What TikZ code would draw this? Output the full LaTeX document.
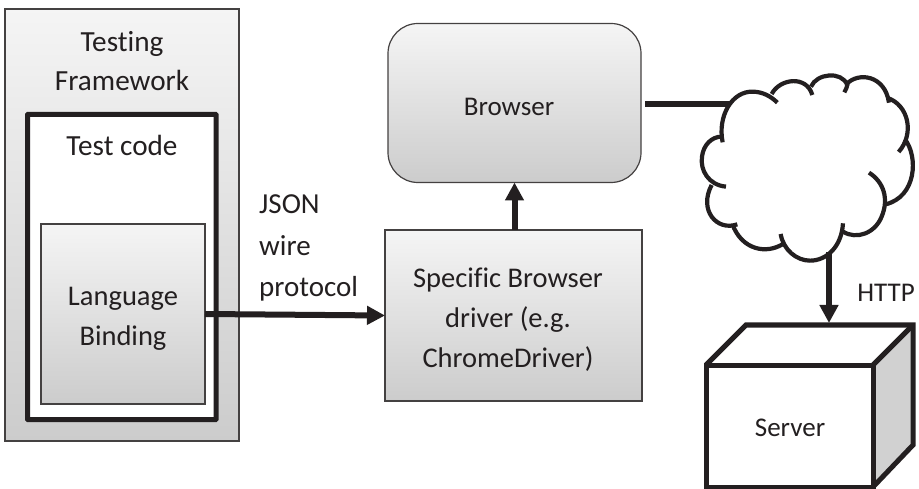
\documentclass[tikz,border=0pt]{standalone}
\usepackage{fontspec}
\setmainfont[Ligatures=NoCommon]{Carlito}
\usetikzlibrary{arrows.meta}
\definecolor{ink}{HTML}{231F20}
\tikzset{
  x=1pt,y=-1pt,
  boxbase/.style={draw=ink!85,line width=1.2pt,inner sep=0,outer sep=0,top color=#1,bottom color=black!20},
  grad/.style={boxbase=black!4},
  thick box/.style={draw=ink,line width=5pt,fill=white,inner sep=0,outer sep=0,rounded corners=0.5pt},
  lbl/.style={font=\fontsize{28.5}{40}\selectfont,text=ink,inner sep=0,align=center},
  conn/.style={draw=ink,line width=6pt},
  arr/.style={conn,-{Triangle[length=18pt,width=18pt]}},
  cloudline/.style={draw=ink,line width=4.2pt,line cap=butt},
}
\begin{document}
\begin{tikzpicture}
\useasboundingbox (0,0) rectangle (919,489);
% left stack
\node[grad,minimum width=234pt,minimum height=432pt] (frame) at (122,225) {};
\node[thick box,minimum width=188.5pt,minimum height=305pt] (code) at (121.75,267) {};
\node[grad,minimum width=164pt,minimum height=180pt] (lang) at (123,314) {};
\node[lbl,font=\fontsize{29.2}{38.5}\selectfont] (tfl) at (122,61) {Testing\\Framework};
\node[lbl,font=\fontsize{29.2}{38.5}\selectfont] (tcl) at (122,145) {Test code};
\node[lbl] (lbl1) at (123,319) {Language\\Binding};
% browser and driver
\node[grad,rounded corners=30pt,minimum width=253pt,minimum height=159pt] (browser) at (514.5,103) {};
\node[lbl,font=\fontsize{27}{40}\selectfont] (bl) at (509,107) {Browser};
\node[grad,minimum width=257pt,minimum height=171pt] (drv) at (513.5,315.5) {};
\node[lbl] (dtext) at (508,320) {Specific Browser\\driver (e.g.\\ChromeDriver)};
\node[lbl,align=left,anchor=west,font=\fontsize{29}{41.5}\selectfont] (json) at (259,248) {JSON\\wire\\protocol};
% server
\fill[black!18!white] (873,365) -- (913,325) -- (913,445) -- (873,487) -- cycle;
\node[draw=ink,line width=5pt,fill=white,inner sep=0,outer sep=0,minimum width=167pt,minimum height=122pt] (srv) at (789.5,426) {};
\draw[draw=ink,line width=5pt,line join=miter] (srv.north west) -- (746,325) -- (913,325) -- (913,445) -- (srv.south east);
\draw[draw=ink,line width=5pt] (srv.north east) -- (913,325);
\node[lbl,font=\fontsize{27}{40}\selectfont] (sl) at (790,428) {Server};
\node[lbl,font=\fontsize{27}{40}\selectfont] (http) at (886,293) {HTTP};
% cloud
\begin{scope}[shift={(620,70)},x=0.3333pt,y=-0.3333pt]
\draw[cloudline] (308,217) .. controls (292,140) and (335,62) .. (400,65) .. controls (428,66) and (452,78) .. (472,98);
\draw[cloudline] (455,72) .. controls (480,25) and (560,15) .. (577,75);
\draw[cloudline] (573,50) .. controls (590,10) and (665,2) .. (682,45) .. controls (681,52) and (678,58) .. (673,67);
\draw[cloudline] (680,42) .. controls (715,5) and (795,15) .. (807,98);
\draw[cloudline] (803,84) .. controls (865,105) and (885,190) .. (836,246);
\draw[cloudline] (855,208) .. controls (895,260) and (890,380) .. (797,403);
\draw[cloudline] (747,308) .. controls (790,335) and (808,385) .. (785,440) .. controls (765,490) and (710,510) .. (669,485);
\draw[cloudline] (669,460) .. controls (665,530) and (620,572) .. (570,572) .. controls (530,572) and (490,540) .. (482,492);
\draw[cloudline] (492,520) .. controls (440,555) and (365,540) .. (337,462);
\draw[cloudline] (352,463) .. controls (290,485) and (235,420) .. (275,345);
\draw[cloudline] (318,350) .. controls (265,345) and (240,300) .. (246,260) .. controls (250,225) and (275,200) .. (305,200);
\end{scope}
\coordinate (cloudW) at (730,104);
\coordinate (cloudS) at (829,252);
\coordinate (browserE) at (645,104);
\coordinate (srvTop) at (829,323);
% connectors
\draw[arr] (lang.east) -- (drv.west);
\draw[arr] (drv.north -| browser.south) -- (browser.south);
\draw[conn] (browserE) -- (cloudW);
\draw[arr] (cloudS) -- (srvTop);
\end{tikzpicture}
\end{document}
